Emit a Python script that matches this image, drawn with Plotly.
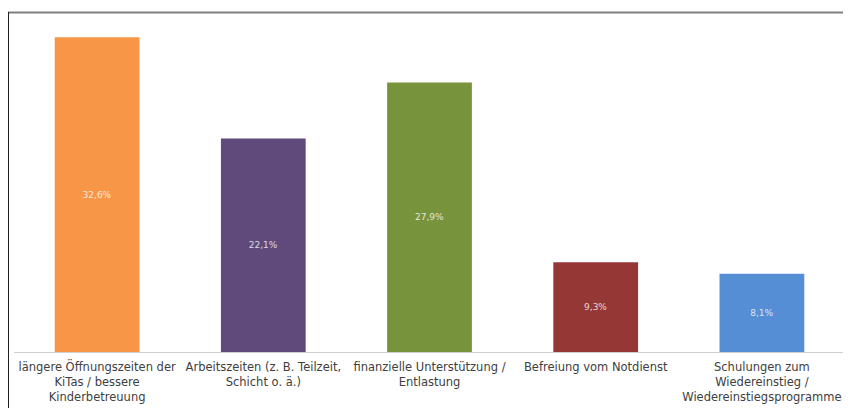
import plotly.graph_objects as go

categories = [
    "längere Öffnungszeiten der<br>KiTas / bessere<br>Kinderbetreuung",
    "Arbeitszeiten (z. B. Teilzeit,<br>Schicht o. ä.)",
    "finanzielle Unterstützung /<br>Entlastung",
    "Befreiung vom Notdienst",
    "Schulungen zum<br>Wiedereinstieg /<br>Wiedereinstiegsprogramme",
]
values = [32.6, 22.1, 27.9, 9.3, 8.1]
value_labels = ["32,6%", "22,1%", "27,9%", "9,3%", "8,1%"]
colors = ["#F79646", "#604A7B", "#77933C", "#953735", "#558ED5"]

fig = go.Figure(
    go.Bar(
        x=categories,
        y=values,
        marker=dict(color=colors, line=dict(width=0)),
        text=value_labels,
        textposition="inside",
        insidetextanchor="middle",
        textfont=dict(family="DejaVu Sans", size=9, color="rgba(255,255,255,0.8)"),
        hoverinfo="skip",
    )
)

# the page body adds an 8px margin, so figure coords = screen coords - 8
OFF = 8
W, H = 851 - OFF, 408 - OFF
L, R, T, B = 14 - OFF, 851 - 845, 14 - OFF, 408 - 352
pw, ph = W - L - R, H - T - B

def px_x(x):
    return (x - OFF - L) / pw

def px_y(y):
    return (H - B - (y - OFF)) / ph

fig.update_layout(
    width=W,
    height=H,
    margin=dict(l=L, r=R, t=T, b=B, autoexpand=False),
    paper_bgcolor="white",
    plot_bgcolor="white",
    bargap=0.49,
    showlegend=False,
    font=dict(family="DejaVu Sans", size=11.5, color="#404040"),
    xaxis=dict(
        automargin=False,
        showline=True,
        linecolor="#D0D0D0",
        linewidth=1,
        ticks="",
        tickangle=0,
        ticklabelstandoff=4,
        tickfont=dict(family="DejaVu Sans", size=11.5, color="#404040"),
        showgrid=False,
    ),
    yaxis=dict(
        range=[0, 35],
        visible=False,
        showgrid=False,
        automargin=False,
    ),
    shapes=[
        dict(type="line", xref="paper", yref="paper",
             x0=px_x(8), x1=px_x(848), y0=px_y(12.5), y1=px_y(12.5),
             line=dict(color="#7F7F7F", width=2)),
        dict(type="line", xref="paper", yref="paper",
             x0=px_x(8.5), x1=px_x(8.5), y0=px_y(12), y1=px_y(412),
             line=dict(color="#202020", width=1)),
        dict(type="line", xref="paper", yref="paper",
             x0=px_x(848), x1=px_x(848), y0=px_y(12), y1=px_y(412),
             line=dict(color="#202020", width=1)),
    ],
)

fig.write_html("out.html")
